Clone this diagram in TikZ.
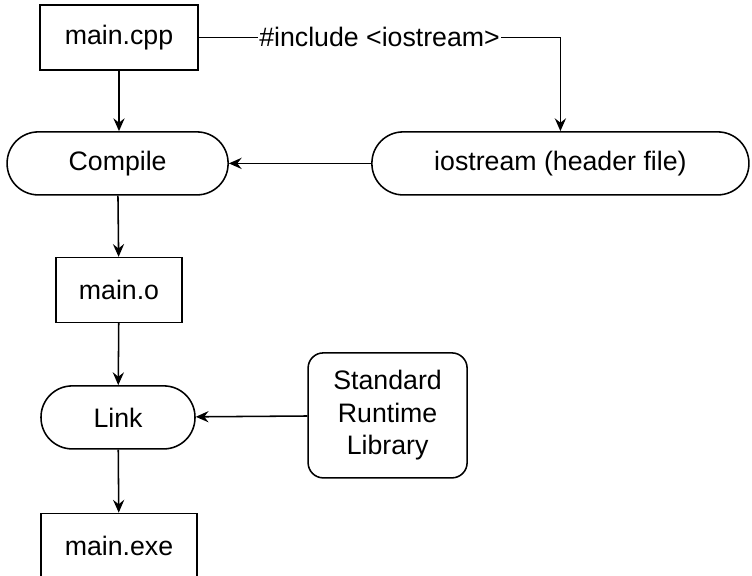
\documentclass[tikz,border=0pt]{standalone}
\usepackage{fontspec}
\setmainfont{Liberation Sans}
\usetikzlibrary{arrows.meta}

\begin{document}
\begin{tikzpicture}[
  font=\fontsize{19}{23}\selectfont,
  line width=1.1pt,
  filebox/.style={draw, rectangle, minimum height=1.62cm, inner sep=0pt},
  stepbox/.style={draw, rectangle, rounded corners=7.8mm, minimum height=1.575cm, inner sep=0pt},
  libbox/.style={draw, rectangle, rounded corners=3.8mm, align=center, minimum width=3.975cm, minimum height=3.125cm, inner sep=0pt},
  flow/.style={-{Stealth[length=3.2mm, width=2.8mm, inset=1.1mm]}}
]
% Fix the page size
\useasboundingbox (0,0) rectangle (18.8,14.375);
% Draw the files and the build steps
\node[filebox, minimum width=3.95cm] (cpp) at (2.975,13.44) {main.cpp};
\node[stepbox, minimum width=5.525cm] (compile) at (2.94,10.29) {Compile};
\node[stepbox, minimum width=9.425cm] (header) at (14.01,10.29) {iostream (header file)};
\node[filebox, minimum width=3.15cm] (obj) at (2.975,7.125) {main.o};
\node[stepbox, minimum width=3.85cm] (link) at (2.95,3.94) {Link};
\node[libbox] (runtime) at (9.69,3.99) {Standard\\Runtime\\Library};
\node[filebox, minimum width=3.9cm] (exe) at (2.975,0.73) {main.exe};
% Connect the build chain
\draw[flow] (cpp) -- (cpp |- compile.north);
\draw[flow] (compile) -- (obj);
\draw[flow] (obj) -- (link);
\draw[flow] (link) -- (exe);
% The header goes into the compile step
\draw[flow] (cpp.east) -- node[fill=white, inner sep=1pt] {\#include <iostream>} (cpp.east -| header.north) -- (header.north);
\draw[flow] (header) -- (compile);
% The library goes into the link step
\draw[flow] (runtime) -- (link);
\end{tikzpicture}
\end{document}
